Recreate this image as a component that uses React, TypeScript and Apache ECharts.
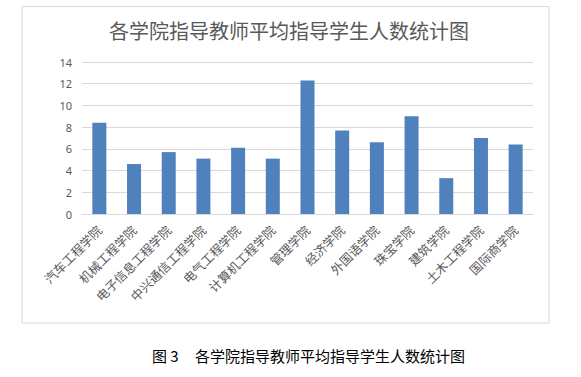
import React, { useEffect, useRef } from "react";
import * as echarts from "echarts";

const categories = [
  "汽车工程学院",
  "机械工程学院",
  "电子信息工程学院",
  "中兴通信工程学院",
  "电气工程学院",
  "计算机工程学院",
  "管理学院",
  "经济学院",
  "外国语学院",
  "珠宝学院",
  "建筑学院",
  "土木工程学院",
  "国际商学院",
];
const values = [8.4, 4.6, 5.7, 5.1, 6.1, 5.1, 12.3, 7.7, 6.6, 9.0, 3.3, 7.0, 6.4];
const titleText = "各学院指导教师平均指导学生人数统计图";
const captionLabel = "图 3";
const captionText = "各学院指导教师平均指导学生人数统计图";

const FONT = "'Noto Sans', 'Noto Sans CJK SC', sans-serif";
const CJK = "'Noto Sans CJK SC', sans-serif";

export default function App() {
  const ref = useRef<HTMLDivElement>(null);
  useEffect(() => {
    if (!ref.current) return;
    const chart = echarts.init(ref.current, null, { renderer: "svg" });
    chart.setOption({
      animation: false,
      backgroundColor: "#ffffff",
      title: {
        text: titleText,
        left: 284,
        top: 15,
        textAlign: "center",
        textStyle: { fontFamily: CJK, fontSize: 20, fontWeight: "normal", color: "#595959" },
      },
      grid: { left: 82, right: 48, top: 62, bottom: 163, containLabel: false },
      xAxis: {
        type: "category",
        data: categories,
        axisLine: { show: true, lineStyle: { color: "#d9d9d9", width: 1 } },
        axisTick: { show: false },
        axisLabel: {
          rotate: 45,
          interval: 0,
          margin: 14,
          fontFamily: CJK,
          fontSize: 12.5,
          color: "#595959",
        },
      },
      yAxis: {
        type: "value",
        min: 0,
        max: 14,
        interval: 2,
        axisLine: { show: false },
        axisTick: { show: false },
        axisLabel: { fontFamily: FONT, fontSize: 11, color: "#595959", margin: 10 },
        splitLine: { lineStyle: { color: "#d9d9d9", width: 1 } },
      },
      series: [
        {
          type: "bar",
          data: values,
          barWidth: 14,
          itemStyle: { color: "#4f81bd" },
        },
      ],
      graphic: [
        {
          type: "rect",
          shape: { x: 22, y: 6.5, width: 527, height: 316.5 },
          style: { fill: "none", stroke: "#d9d9d9", lineWidth: 1 },
          silent: true,
          z: -1,
        },
        {
          type: "text",
          x: 152,
          y: 355,
          style: {
            text: captionLabel,
            font: `15px ${CJK}`,
            fill: "#000000",
            textVerticalAlign: "middle",
          },
        },
        {
          type: "text",
          x: 195,
          y: 355,
          style: {
            text: captionText,
            font: `15px ${CJK}`,
            fill: "#000000",
            textVerticalAlign: "middle",
          },
        },
      ],
    });
    return () => chart.dispose();
  }, []);
  return (
    <div
      ref={ref}
      style={{ position: "fixed", left: 0, top: 0, width: 581, height: 377 }}
    />
  );
}
